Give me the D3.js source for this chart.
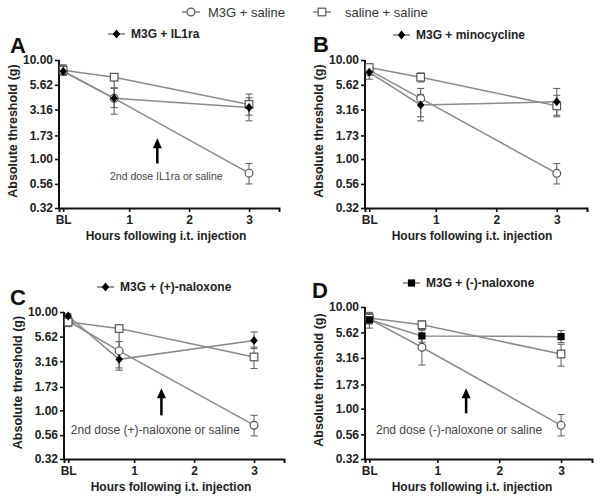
<!DOCTYPE html>
<html><head><meta charset="utf-8">
<script src="https://cdn.jsdelivr.net/npm/d3@7"></script>
<style>
body{margin:0;background:#fff;}
svg{display:block;font-family:"Liberation Sans",Arial,sans-serif;}
</style></head>
<body><svg id="c" width="600" height="499"></svg>
<script>
// ---- data ----
const timepoints = [-0.1, 0.75, 3];
const xTickValues = [-0.1, 1, 2, 3];
const xTickLabels = ["BL", "1", "2", "3"];
const yTickValues = [10, 5.62, 3.16, 1.73, 1.00, 0.56, 0.32];
const yTickLabels = ["10.00", "5.62", "3.16", "1.73", "1.00", "0.56", "0.32"];

const seriesNames = ["M3G + saline", "saline + saline"];
const treatmentNames = ["M3G + IL1ra", "M3G + minocycline", "M3G + (+)-naloxone", "M3G + (-)-naloxone"];
const panelLetters = ["A", "B", "C", "D"];
const annotationTexts = ["2nd dose IL1ra or saline", "", "2nd dose (+)-naloxone or saline", "2nd dose (-)-naloxone or saline"];

// Panel A
const A_m3gSaline   = [7.7, 4.1, 0.72];
const A_m3gSalineHi = [8.9, 5.2, 0.90];
const A_m3gSalineLo = [7.0, 3.3, 0.56];
const A_salSal      = [7.9, 6.7, 3.56];
const A_salSalHi    = [8.9, 7.3, 4.53];
const A_salSalLo    = [7.0, 5.2, 2.77];
const A_treat       = [7.7, 4.1, 3.31];
const A_treatHi     = [8.6, 5.2, 4.15];
const A_treatLo     = [7.0, 2.84, 2.43];
// Panel B
const B_m3gSaline   = [7.9, 4.09, 0.716];
const B_m3gSalineHi = [8.9, 5.16, 0.90];
const B_m3gSalineLo = [7.0, 2.67, 0.56];
const B_salSal      = [8.4, 6.7, 3.44];
const B_salSalHi    = [9.0, 7.4, 4.4];
const B_salSalLo    = [7.6, 6.0, 2.67];
const B_treat       = [7.5, 3.52, 3.78];
const B_treatHi     = [8.4, 4.5, 5.16];
const B_treatLo     = [6.4, 2.43, 2.77];
// Panel C
const C_m3gSaline   = [8.1, 4.02, 0.706];
const C_m3gSalineHi = [8.9, 5.0, 0.89];
const C_m3gSalineLo = [7.3, 2.7, 0.55];
const C_salSal      = [7.9, 6.78, 3.49];
const C_salSalHi    = [8.8, 7.3, 4.4];
const C_salSalLo    = [7.1, 4.0, 2.66];
const C_treat       = [9.1, 3.3, 5.12];
const C_treatHi     = [9.6, 3.9, 6.27];
const C_treatLo     = [8.6, 2.56, 4.25];
// Panel D
const D_m3gSaline   = [7.6, 4.02, 0.686];
const D_m3gSalineHi = [8.6, 4.9, 0.875];
const D_m3gSalineLo = [6.8, 2.69, 0.54];
const D_salSal      = [7.78, 6.68, 3.45];
const D_salSalHi    = [8.8, 7.3, 4.3];
const D_salSalLo    = [7.0, 5.9, 2.62];
const D_treat       = [7.48, 5.2, 5.11];
const D_treatHi     = [8.85, 6.0, 5.87];
const D_treatLo     = [6.2, 4.5, 4.47];

// arrow annotations
const arrowX      = [1.47, null, 1.455, 1.465];
const arrowTop    = [1.62, null, 1.68, 1.59];
const arrowBottom = [0.90, null, 0.89, 0.90];
const textX       = [1.62, null, 1.355, 1.35];
const textY       = [0.62, null, 0.57, 0.57];

// ---- layout ----
const layout = [
  {x0: 59,  w: 220, y0: 60,  y1: 208, lx: 108, ly: 34,  letX: 10,  letY: 53,  tf: 10.5, treatSym: "diamond"},
  {x0: 365, w: 222, y0: 60,  y1: 208, lx: 393, ly: 35,  letX: 313, letY: 52,  tf: 11,   treatSym: "diamond"},
  {x0: 64,  w: 220, y0: 312, y1: 459, lx: 97,  ly: 287, letX: 10,  letY: 305, tf: 12,   treatSym: "diamond"},
  {x0: 365, w: 227, y0: 307, y1: 459, lx: 403, ly: 283, letX: 312, letY: 298, tf: 12,   treatSym: "square"}
];

const panelData = [
  [[A_m3gSaline, A_m3gSalineHi, A_m3gSalineLo], [A_salSal, A_salSalHi, A_salSalLo], [A_treat, A_treatHi, A_treatLo]],
  [[B_m3gSaline, B_m3gSalineHi, B_m3gSalineLo], [B_salSal, B_salSalHi, B_salSalLo], [B_treat, B_treatHi, B_treatLo]],
  [[C_m3gSaline, C_m3gSalineHi, C_m3gSalineLo], [C_salSal, C_salSalHi, C_salSalLo], [C_treat, C_treatHi, C_treatLo]],
  [[D_m3gSaline, D_m3gSalineHi, D_m3gSalineLo], [D_salSal, D_salSalHi, D_salSalLo], [D_treat, D_treatHi, D_treatLo]]
];

const svg = d3.select("#c");
const lineCol = "#8a8a8a";
const markStroke = "#555";
const textCol = "#222";

function drawMarker(g, type, x, y) {
  if (type === "circle") {
    g.append("circle").attr("cx", x).attr("cy", y).attr("r", 3.9)
      .attr("fill", "#fff").attr("stroke", markStroke).attr("stroke-width", 1.2);
  } else if (type === "opensquare") {
    g.append("rect").attr("x", x - 3.8).attr("y", y - 3.8).attr("width", 7.6).attr("height", 7.6)
      .attr("fill", "#fff").attr("stroke", markStroke).attr("stroke-width", 1.2);
  } else if (type === "diamond") {
    g.append("path").attr("transform", `translate(${x},${y})`)
      .attr("d", "M0,-4.5L3.7,0L0,4.5L-3.7,0Z").attr("fill", "#000");
  } else if (type === "square") {
    g.append("rect").attr("x", x - 3.6).attr("y", y - 3.6).attr("width", 7.2).attr("height", 7.2).attr("fill", "#000");
  }
}

// top legend
const topLeg = [
  {x: 182, type: "circle", tx: 208, name: seriesNames[0]},
  {x: 313, type: "opensquare", tx: 345, name: seriesNames[1]}
];
topLeg.forEach(l => {
  svg.append("line").attr("x1", l.x).attr("x2", l.x + 18).attr("y1", 12).attr("y2", 12)
    .attr("stroke", "#666").attr("stroke-width", 1.2);
  drawMarker(svg, l.type, l.x + 9, 12);
  svg.append("text").attr("x", l.tx).attr("y", 16.5).attr("font-size", 13).attr("fill", "#333").text(l.name);
});

layout.forEach((L, pi) => {
  const g = svg.append("g");
  const x = d3.scaleLinear().domain([-0.17, 3.5]).range([L.x0, L.x0 + L.w]);
  const y = d3.scaleLog().domain([0.32, 10]).range([L.y1, L.y0]);

  g.append("text").attr("x", L.letX).attr("y", L.letY).attr("font-size", 22).attr("font-weight", "bold")
    .attr("fill", "#111").text(panelLetters[pi]);

  g.append("line").attr("x1", L.lx).attr("x2", L.lx + 17).attr("y1", L.ly).attr("y2", L.ly)
    .attr("stroke", "#555").attr("stroke-width", 1.2);
  drawMarker(g, L.treatSym, L.lx + 8.5, L.ly);
  g.append("text").attr("x", L.lx + 23).attr("y", L.ly + 4.3).attr("font-size", 12).attr("font-weight", "bold")
    .attr("fill", textCol).text(treatmentNames[pi]);

  const ya = g.append("g").attr("transform", `translate(${L.x0},0)`)
    .call(d3.axisLeft(y).tickValues(yTickValues).tickFormat((d, i) => yTickLabels[i]).tickSizeOuter(0).tickSize(4).tickPadding(2));
  const xa = g.append("g").attr("transform", `translate(0,${L.y1})`)
    .call(d3.axisBottom(x).tickValues(xTickValues).tickFormat((d, i) => xTickLabels[i]).tickSizeOuter(0).tickSize(4).tickPadding(3));
  [ya, xa].forEach(a => {
    a.select(".domain").attr("stroke", "#111").attr("stroke-width", 2);
    a.selectAll(".tick line").attr("stroke", "#111").attr("stroke-width", 1.6);
    a.selectAll(".tick text").attr("font-size", 12).attr("font-weight", "bold").attr("fill", textCol)
      .attr("font-family", "'Liberation Sans', Arial, sans-serif");
  });
  ya.select(".domain").attr("d", `M0,${L.y0}V${L.y1 + 1}`);

  g.append("text").attr("transform", `translate(${L.x0 - 42},${(L.y0 + L.y1) / 2 - 3}) rotate(-90)`)
    .attr("text-anchor", "middle").attr("font-size", 12.5).attr("font-weight", "bold").attr("fill", textCol)
    .text("Absolute threshold (g)");
  g.append("text").attr("x", L.x0 + 107).attr("y", L.y1 + 32).attr("text-anchor", "middle")
    .attr("font-size", 12).attr("font-weight", "bold").attr("fill", textCol)
    .text("Hours following i.t. injection");

  const series = panelData[pi];
  const types = ["circle", "opensquare", L.treatSym];
  const line = d3.line().x((d, i) => x(timepoints[i])).y(d => y(d));

  series.forEach(s => {
    g.append("path").attr("d", line(s[0])).attr("fill", "none").attr("stroke", lineCol).attr("stroke-width", 1.5);
  });
  series.forEach(s => {
    s[0].forEach((v, i) => {
      const cx = x(timepoints[i]);
      const eg = g.append("g").attr("stroke", "#666").attr("stroke-width", 1.1);
      eg.append("line").attr("x1", cx).attr("x2", cx).attr("y1", y(s[1][i])).attr("y2", y(s[2][i]));
      eg.append("line").attr("x1", cx - 3.5).attr("x2", cx + 3.5).attr("y1", y(s[1][i])).attr("y2", y(s[1][i]));
      eg.append("line").attr("x1", cx - 3.5).attr("x2", cx + 3.5).attr("y1", y(s[2][i])).attr("y2", y(s[2][i]));
    });
  });
  series.forEach((s, si) => {
    s[0].forEach((v, i) => drawMarker(g, types[si], x(timepoints[i]), y(v)));
  });

  if (arrowX[pi] !== null) {
    const ax = x(arrowX[pi]), at = y(arrowTop[pi]), ab = y(arrowBottom[pi]);
    g.append("line").attr("x1", ax).attr("x2", ax).attr("y1", at + 8).attr("y2", ab)
      .attr("stroke", "#000").attr("stroke-width", 2.5);
    g.append("path").attr("d", `M${ax},${at}L${ax + 4.5},${at + 10}L${ax - 4.5},${at + 10}Z`).attr("fill", "#000");
    g.append("text").attr("x", x(textX[pi])).attr("y", y(textY[pi])).attr("text-anchor", "middle")
      .attr("font-size", L.tf).attr("fill", "#444").text(annotationTexts[pi]);
  }
});
</script>
</body></html>
